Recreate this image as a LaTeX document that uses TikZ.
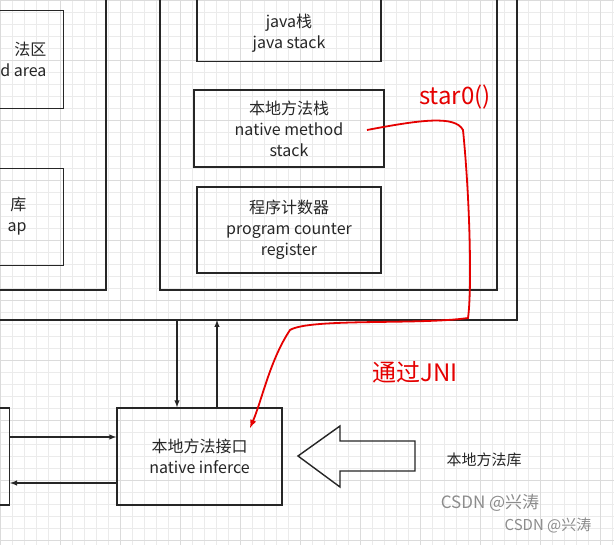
\documentclass[tikz,border=0pt]{standalone}
\usepackage{fontspec}
\setmainfont{Noto Sans CJK SC}
\begin{document}
\begin{tikzpicture}[x=1pt,y=-1pt,
 box/.style={draw=black!85,line width=1.4pt,align=center,font=\fontsize{16}{21}\selectfont,text=black!85},
 lbl/.style={font=\fontsize{16}{21}\selectfont,text=black!85,align=right,anchor=east},
 arr/.style={-latex,line width=1.4pt,black!85}]
\useasboundingbox (0,0) rectangle (614,545);
\fill[white] (0,0) rectangle (614,545);
\foreach \i in {0,12,...,612} \draw[black!8,line width=0.5pt] (\i,0) -- (\i,545);
\foreach \i in {0,12,...,540} \draw[black!8,line width=0.5pt] (0,\i) -- (614,\i);
\foreach \i in {0,60,...,600} \draw[black!14,line width=0.6pt] (\i,0) -- (\i,545);
\foreach \i in {0,60,...,540} \draw[black!14,line width=0.6pt] (0,\i) -- (614,\i);
% outer box
\draw[line width=1.4pt,black!85] (0,320) -- (517,320) -- (517,-2);
% left inner
\draw[line width=1.4pt,black!85] (-2,290) -- (106,290) -- (106,-2);
\node[box,minimum width=80,minimum height=98,anchor=north east] (ma) at (64,10) {};
\node[lbl] at (50,59) {法区\\d area};
\node[box,minimum width=80,minimum height=97,anchor=north east] (hp) at (64,168) {};
\node[lbl] at (30,216) {库\\ap};
% right inner
\draw[line width=1.4pt,black!85] (160,-2) -- (160,290) -- (497,290) -- (497,-2);
\node[box,minimum width=184,minimum height=70,anchor=south] (js) at (289,62) {};
\node[align=center,font=\fontsize{16}{21}\selectfont,text=black!85] at (289,33) {java栈\\java stack};
\node[box,minimum width=190,minimum height=77] (nm) at (289,128.5) {本地方法栈\\native method\\stack};
\node[box,minimum width=184,minimum height=86] (pc) at (289,230) {程序计数器\\program counter\\register};
% bottom
\node[box,minimum width=165,minimum height=97] (ni) at (199.5,456.5) {本地方法接口\\native inferce};
\node[box,minimum width=30,minimum height=97,anchor=east] (lb) at (10,456.5) {};
\coordinate (ob1) at (177,320); \coordinate (ob2) at (217,320);
\draw[arr] (ob1) -- (ob1|-ni.north);
\draw[arr] (ob2|-ni.north) -- (ob2);
\draw[arr] (lb.east|-0,437) -- (ni.west|-0,437);
\draw[arr] (ni.west|-0,483) -- (lb.east|-0,483);
\draw[line width=1.4pt,black!85] (298,456) -- (340,426) -- (340,441) -- (415,441) -- (415,471) -- (340,471) -- (340,487) -- cycle;
\node[font=\fontsize{15}{18}\selectfont,text=black!85] (lib) at (484,460) {本地方法库};
% red
\draw[red!90!black,line width=1.8pt,-{latex}] (367,130) .. controls (420,120) and (455,115) .. (463,130)
 .. controls (470,200) and (472,290) .. (468,318) .. controls (420,325) and (310,318) .. (290,330)
 .. controls (270,360) and (262,400) .. (250,428);
\node[red!90!black,font=\fontsize{24}{28}\selectfont] (st) at (455,97) {star0()};
\node[red!90!black,font=\fontsize{24}{28}\selectfont] (jni) at (415,372) {通过JNI};
\node[black!45,font=\fontsize{17}{20}\selectfont] (w1) at (490,503) {CSDN @兴涛};
\node[black!45,font=\fontsize{15}{18}\selectfont] (w2) at (548,525) {CSDN @兴涛};
\end{tikzpicture}
\end{document}
